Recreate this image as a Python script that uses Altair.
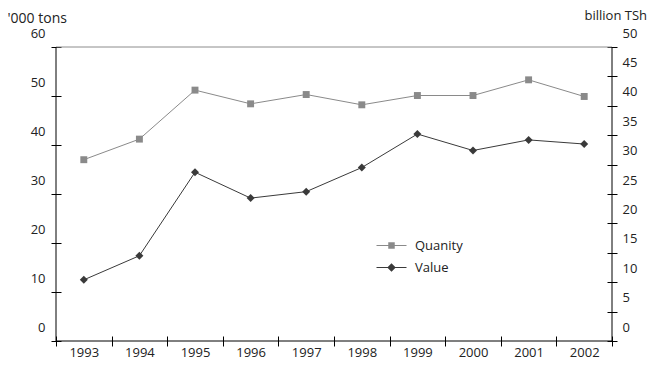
import altair as alt
import pandas as pd

years = [1993, 1994, 1995, 1996, 1997, 1998, 1999, 2000, 2001, 2002]
quantity = [37.0, 41.2, 51.2, 48.4, 50.3, 48.2, 50.1, 50.1, 53.3, 49.9]
value = [10.4, 14.5, 28.7, 24.3, 25.4, 29.5, 35.2, 32.4, 34.2, 33.5]
series_names = ["Quanity", "Value"]
left_ticks = [0, 10, 20, 30, 40, 50, 60]
right_ticks = [0, 5, 10, 15, 20, 25, 30, 35, 40, 45, 50]

Q_COLOR = "#8a8a8a"
V_COLOR = "#3a3a3a"
FONT = "Open Sans"
TXT = "#222222"
W, H = 556, 294

df = pd.DataFrame({"year": years, "quantity": quantity, "value": value})

xaxis = alt.Axis(title=None, labelAngle=0, tickBand="extent", tickSize=10, offset=-5,
                 domain=False, labelPadding=0, labelFontSize=13, labelFont=FONT,
                 labelColor=TXT, tickColor="#000", grid=False)
xenc = alt.X("year:O", scale=alt.Scale(type="band", paddingInner=0, paddingOuter=0), axis=xaxis)

left_axis = alt.Axis(orient="left", values=left_ticks, tickSize=10, offset=-5, domain=False,
                     labelOffset=-14, labelPadding=6, labelFontSize=13, labelFont=FONT,
                     labelColor=TXT, tickColor="#000", grid=False,
                     title="'000 tons", titleAngle=0, titleAlign="left", titleBaseline="middle",
                     titleX=-54, titleY=-28.5, titleFont=FONT, titleFontSize=14,
                     titleFontWeight="normal", titleColor=TXT)
right_axis = alt.Axis(orient="right", values=right_ticks, tickSize=10, offset=-5, domain=False,
                      labelOffset=-14, labelPadding=5, labelFontSize=13, labelFont=FONT,
                      labelColor=TXT, tickColor="#000", grid=False,
                      title="billion TSh", titleAngle=0, titleAlign="left", titleBaseline="middle",
                      titleX=-23, titleY=-32, titleFont=FONT, titleFontSize=13,
                      titleFontWeight="normal", titleColor=TXT)

base = alt.Chart(df).encode(x=xenc)
qy = alt.Y("quantity:Q", scale=alt.Scale(domain=[0, 60]), axis=left_axis)
vy = alt.Y("value:Q", scale=alt.Scale(domain=[0, 50]), axis=right_axis)

q_layer = alt.layer(
    base.mark_line(color=Q_COLOR, strokeWidth=1).encode(y=qy),
    base.mark_point(shape="square", filled=True, size=48, color=Q_COLOR, opacity=1).encode(y=qy),
)
v_layer = alt.layer(
    base.mark_line(color=V_COLOR, strokeWidth=1).encode(y=vy),
    base.mark_point(shape="diamond", filled=True, size=64, color=V_COLOR, opacity=1).encode(y=vy),
)

path_q = "M-3,-0.1H3V0.1H-3Z M-0.65,-0.65H0.65V0.65H-0.65Z"
path_v = "M-3,-0.1H3V0.1H-3Z M0,-0.85L0.85,0L0,0.85L-0.85,0Z"
leg_df = pd.DataFrame({"series": series_names})
legend_layer = alt.Chart(leg_df).transform_filter("false").mark_point(
    filled=True, opacity=1, size=100
).encode(
    color=alt.Color("series:N", scale=alt.Scale(domain=series_names, range=[Q_COLOR, V_COLOR]),
                    legend=alt.Legend(title=None, orient="none", legendX=329, legendY=192,
                                      symbolSize=100, symbolStrokeWidth=0, labelOffset=17,
                                      rowPadding=8, padding=0, labelFont=FONT, labelFontSize=13,
                                      labelColor=TXT, symbolOpacity=1)),
    shape=alt.Shape("series:N", scale=alt.Scale(domain=series_names, range=[path_q, path_v])),
)

one = pd.DataFrame({"a": [0]})
top_rule = alt.Chart(one).mark_rule(color="#8c8c8c", strokeWidth=1).encode(
    y=alt.value(0), x=alt.value(0), x2=alt.value(W))
left_rule = alt.Chart(one).mark_rule(color="#000", strokeWidth=1).encode(
    x=alt.value(0), y=alt.value(0), y2=alt.value(H))
right_rule = alt.Chart(one).mark_rule(color="#000", strokeWidth=1).encode(
    x=alt.value(W), y=alt.value(0), y2=alt.value(H))
bottom_rule = alt.Chart(one).mark_rule(color="#000", strokeWidth=1).encode(
    y=alt.value(H), x=alt.value(0), x2=alt.value(W))

chart = alt.layer(
    top_rule, left_rule, right_rule, bottom_rule, q_layer, v_layer, legend_layer
).resolve_scale(y="independent").properties(
    width=W, height=H,
    padding={"left": 48, "top": 39, "right": 43, "bottom": 18},
    autosize=alt.AutoSizeParams(type="none"),
).configure_view(stroke=None)

chart.save("out.html", embed_options={"renderer": "svg", "actions": False})
